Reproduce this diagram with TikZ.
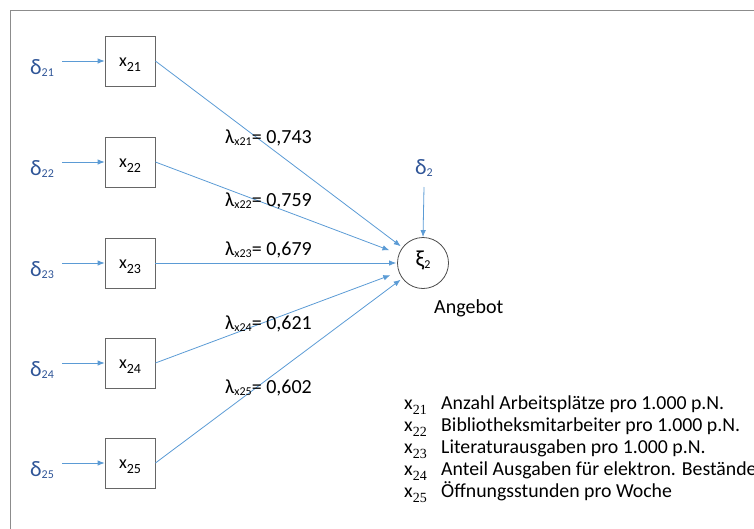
\documentclass[tikz,border=0pt]{standalone}
\usepackage{fontspec}
\setmainfont{Carlito}
\newfontfamily\serifsub{Liberation Serif}
\usetikzlibrary{arrows.meta}
\definecolor{lineblue}{RGB}{91,155,213}
\definecolor{textblue}{RGB}{47,85,151}
\definecolor{framegray}{RGB}{140,140,140}
% box subscript
\newcommand{\sbx}[1]{\raisebox{-5pt}{\fontsize{14}{15}\selectfont #1}}
% small, slightly lowered subscript (deltas, lambdas)
\newcommand{\sbl}[1]{\raisebox{-2.5pt}{\fontsize{12}{13}\selectfont #1}}
% legend subscript (serif)
\newcommand{\sbs}[1]{\raisebox{-5pt}{\serifsub\fontsize{14}{15}\selectfont #1}}
\begin{document}
\begin{tikzpicture}[x=1pt,y=-1pt,font=\fontsize{20}{24}\selectfont,
  obs/.style={draw=black!60,line width=0.8pt,minimum width=50pt,minimum height=50pt,inner sep=0pt,fill=white,
              text height=10pt,text depth=0pt,font=\fontsize{18}{20}\selectfont},
  lat/.style={draw=black!70,line width=0.8pt,circle,minimum size=51pt,inner sep=0pt,
              text height=6pt,text depth=0pt,font=\fontsize{23}{25}\selectfont},
  conn/.style={draw=lineblue,line width=0.8pt,-{Latex[length=7pt,width=5.5pt]}},
  errlab/.style={text=textblue,inner sep=0pt,font=\fontsize{22}{24}\selectfont},
  plain/.style={inner sep=0pt},
  legend/.style={inner sep=0pt,font=\fontsize{19.8}{22}\selectfont}]
\useasboundingbox (0,0) rectangle (754,528);
\clip (0,0) rectangle (754,528);
\draw[framegray,line width=0.9pt] (10,540) -- (10,10) -- (770,10);

% observed boxes
\foreach \i/\y in {21/61,22/162,23/263,24/363,25/463}{
  \node[obs] (x\i) at (130,\y) {x\sbx{\i}};
  \node[errlab,anchor=base] (d\i) at (42,\y+13) {δ\sbl{\i}};
  \coordinate (d\i s) at (62,\y);
  \draw[conn] (d\i s) -- (x\i.west);
}

% latent
\node[lat] (xi) at (423,263) {ξ\sbl{2}};
\node[errlab,anchor=base] (d2) at (424,174) {δ\sbl{2}};
\coordinate (d2s) at (424,187);
\draw[conn] (d2s) -- (xi.north);
\node[plain,anchor=base west] (ang) at (434,313) {Angebot};

% loadings
\draw[conn,shorten >=2pt] (x21.east) -- (xi);
\draw[conn,shorten >=10pt] (x22.east) -- (xi);
\draw[conn,shorten >=1pt] (x23.east) -- (xi);
\draw[conn,shorten >=9pt] (x24.east) -- (xi);
\draw[conn,shorten >=2pt] (x25.east) -- (xi);

\node[plain,anchor=base west] (l21) at (225,143) {λ\sbl{x21}= 0,743};
\node[plain,anchor=base west] (l22) at (225,206) {λ\sbl{x22}= 0,759};
\node[plain,anchor=base west] (l23) at (225,255) {λ\sbl{x23}= 0,679};
\node[plain,anchor=base west] (l24) at (225,329) {λ\sbl{x24}= 0,621};
\node[plain,anchor=base west] (l25) at (225,393) {λ\sbl{x25}= 0,602};

% legend
\foreach \i/\y/\t in {21/409/{Anzahl Arbeitsplätze pro 1.000 p.N.},
                      22/431/{Bibliotheksmitarbeiter pro 1.000 p.N.},
                      23/453/{Literaturausgaben pro 1.000 p.N.},
                      24/475/{Anteil Ausgaben für elektron. Bestände},
                      25/497/{Öffnungsstunden pro Woche}}{
  \node[legend,anchor=base west] (k\i) at (404,\y) {x\sbs{\i}};
  \node[legend,anchor=base west] (t\i) at (441,\y) {\t};
}
\end{tikzpicture}
\end{document}
